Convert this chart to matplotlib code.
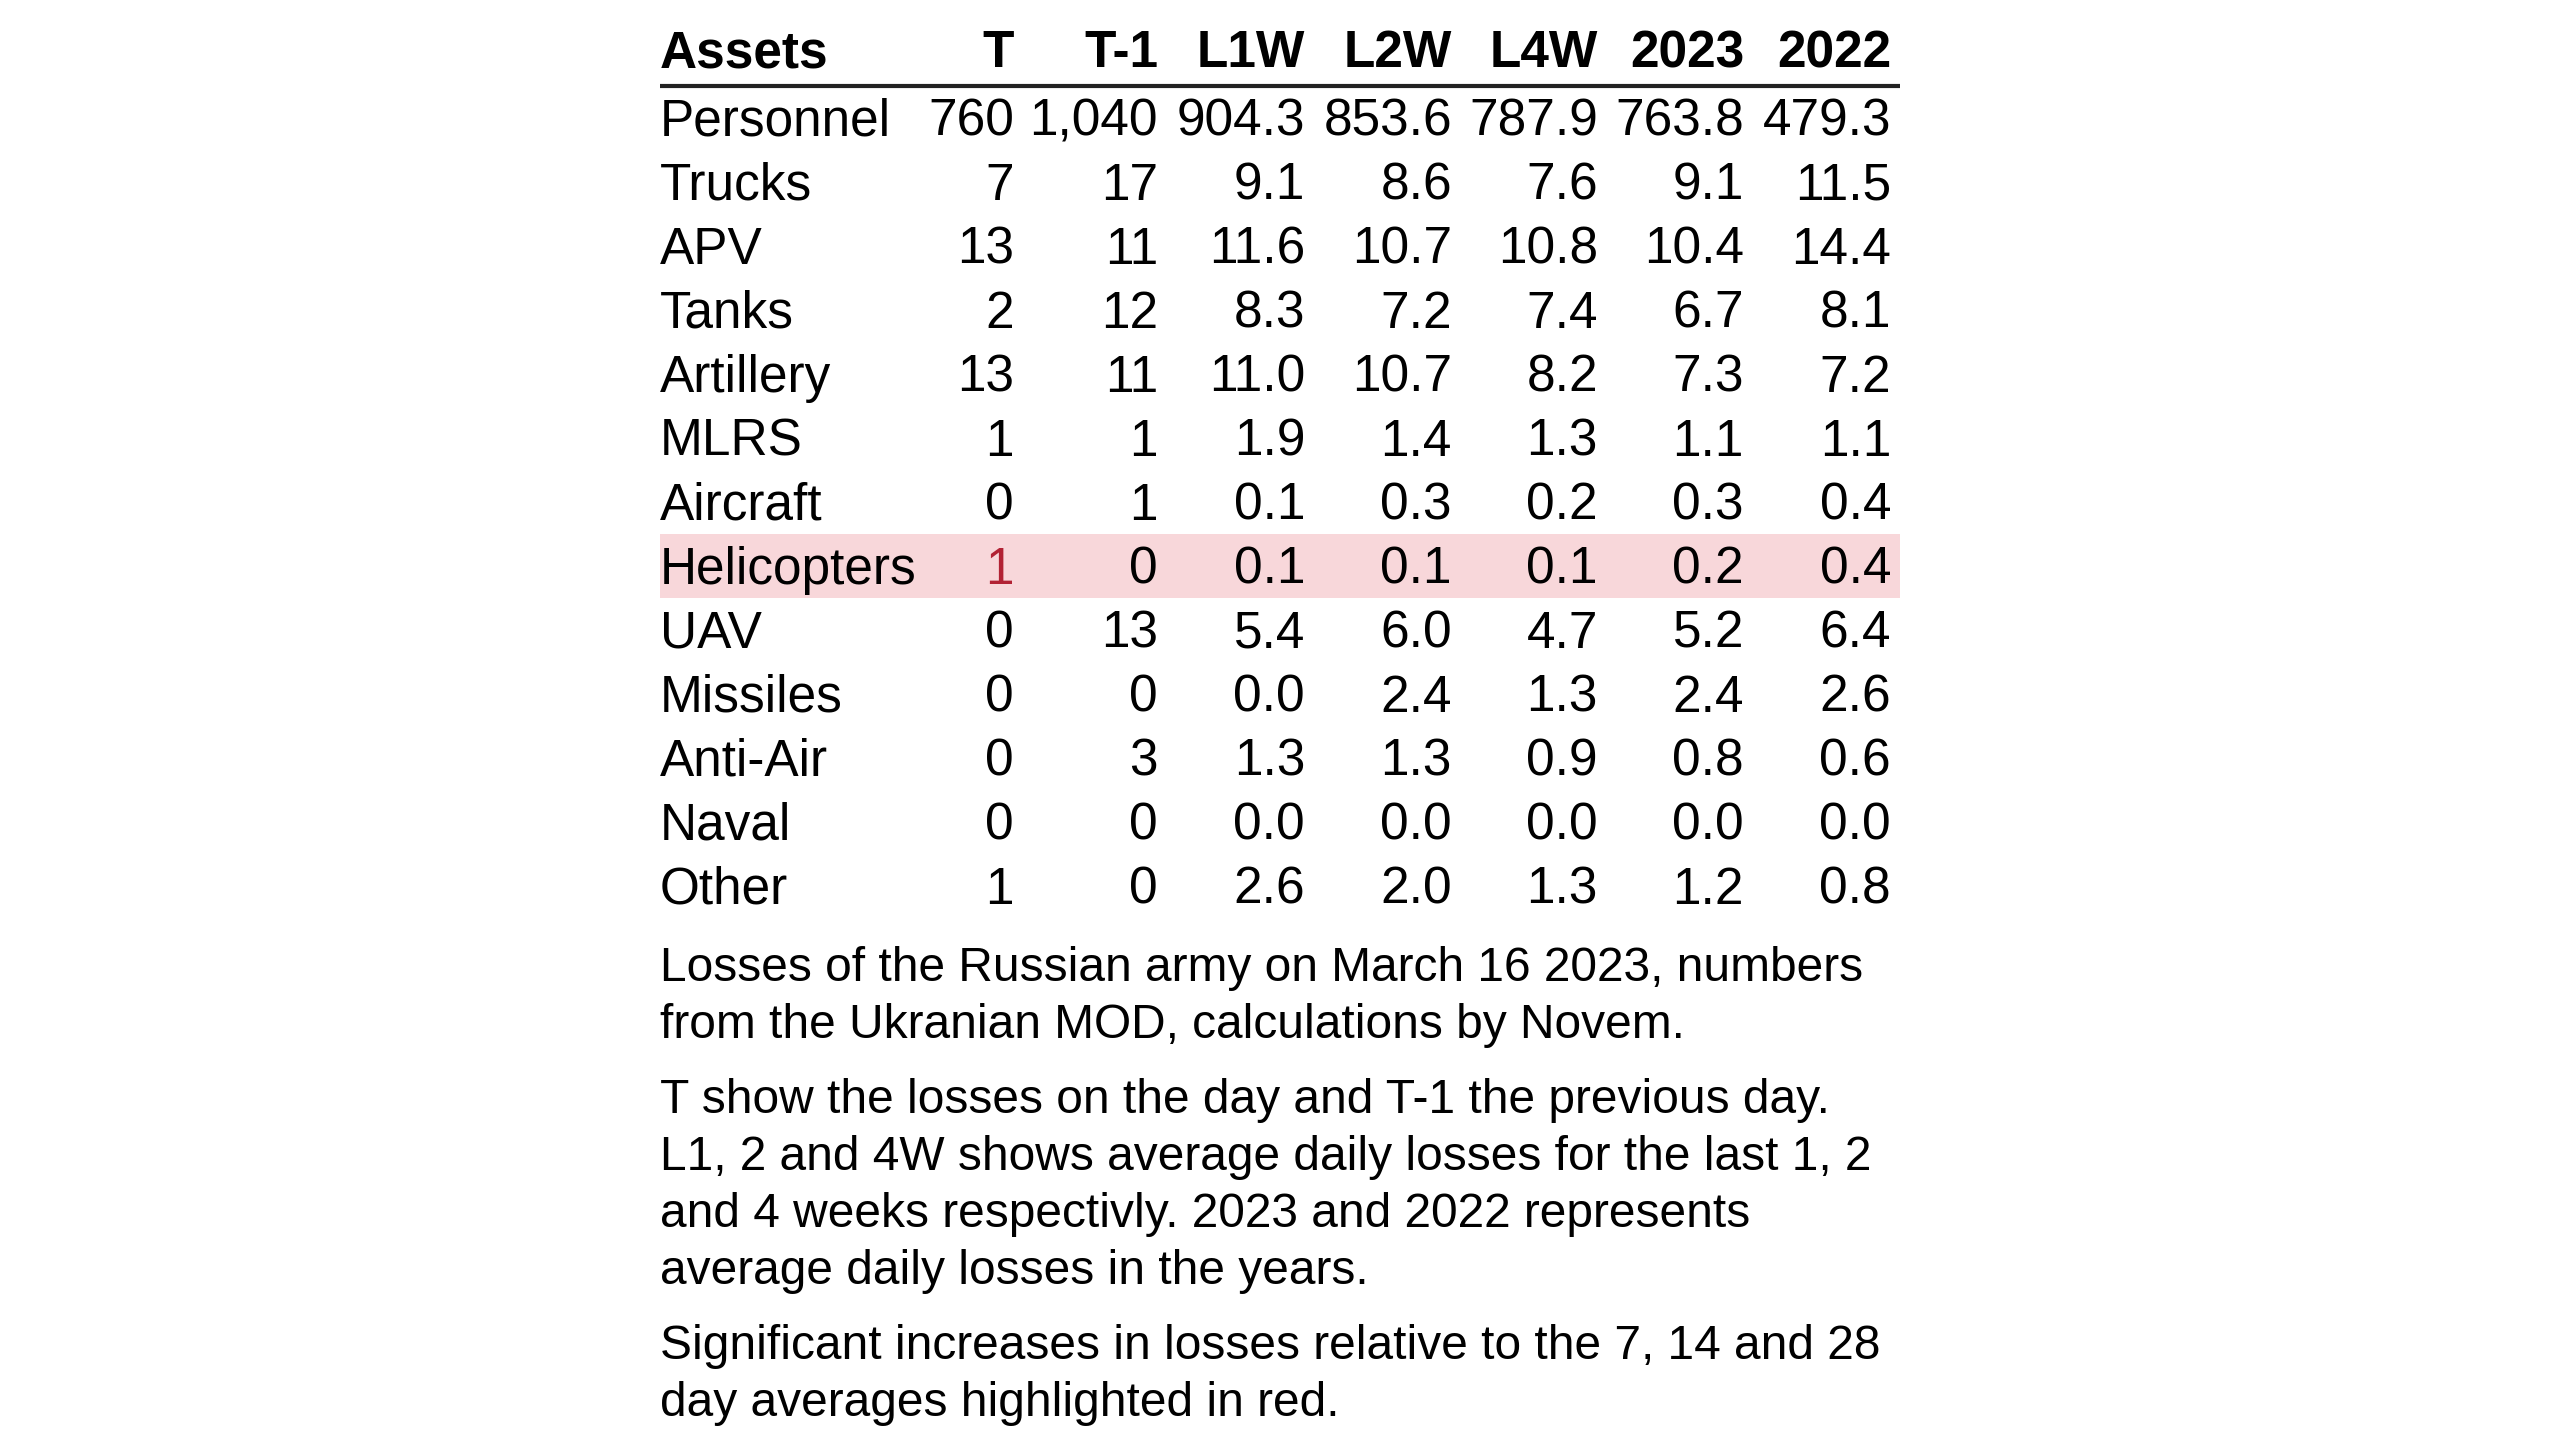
import matplotlib
matplotlib.use("Agg")
import matplotlib.pyplot as plt
from matplotlib.patches import Rectangle

# ---- data ----
assets = ["Personnel", "Trucks", "APV", "Tanks", "Artillery", "MLRS", "Aircraft",
          "Helicopters", "UAV", "Missiles", "Anti-Air", "Naval", "Other"]
columns = ["T", "T-1", "L1W", "L2W", "L4W", "2023", "2022"]
T_vals = [760, 7, 13, 2, 13, 1, 0, 1, 0, 0, 0, 0, 1]
T1_vals = [1040, 17, 11, 12, 11, 1, 1, 0, 13, 0, 3, 0, 0]
L1W_vals = [904.3, 9.1, 11.6, 8.3, 11.0, 1.9, 0.1, 0.1, 5.4, 0.0, 1.3, 0.0, 2.6]
L2W_vals = [853.6, 8.6, 10.7, 7.2, 10.7, 1.4, 0.3, 0.1, 6.0, 2.4, 1.3, 0.0, 2.0]
L4W_vals = [787.9, 7.6, 10.8, 7.4, 8.2, 1.3, 0.2, 0.1, 4.7, 1.3, 0.9, 0.0, 1.3]
Y2023_vals = [763.8, 9.1, 10.4, 6.7, 7.3, 1.1, 0.3, 0.2, 5.2, 2.4, 0.8, 0.0, 1.2]
Y2022_vals = [479.3, 11.5, 14.4, 8.1, 7.2, 1.1, 0.4, 0.4, 6.4, 2.6, 0.6, 0.0, 0.8]
highlight_rows = ["Helicopters"]
highlight_cells = [("Helicopters", "T")]

footnotes = [
    ["Losses of the Russian army on March 16 2023, numbers",
     "from the Ukranian MOD, calculations by Novem."],
    ["T show the losses on the day and T-1 the previous day.",
     "L1, 2 and 4W shows average daily losses for the last 1, 2",
     "and 4 weeks respectivly. 2023 and 2022 represents",
     "average daily losses in the years."],
    ["Significant increases in losses relative to the 7, 14 and 28",
     "day averages highlighted in red."],
]

col_values = [T_vals, T1_vals, L1W_vals, L2W_vals, L4W_vals, Y2023_vals, Y2022_vals]
int_cols = {"T", "T-1"}

# ---- layout (pixel coordinates) ----
W, H = 2560, 1440
fig = plt.figure(figsize=(W / 100, H / 100), dpi=100)
ax = fig.add_axes([0, 0, 1, 1])
ax.set_xlim(0, W)
ax.set_ylim(H, 0)
ax.axis("off")

FONT = "Liberation Sans"
table_fs = 37
note_fs = 34.5
left_x = 660
right_x = 1900
col_right = [1014, 1158, 1305, 1452, 1598, 1744, 1891]
header_base = 67
row0_base = 136
row_pitch = 64
cap = 37
RED = "#B22234"
PINK = "#F8D7DA"

# header
ax.text(left_x, header_base, "Assets", fontsize=table_fs, fontweight="bold",
        family=FONT, ha="left", va="baseline")
for c, xr in zip(columns, col_right):
    ax.text(xr, header_base, c, fontsize=table_fs, fontweight="bold",
            family=FONT, ha="right", va="baseline")
ax.plot([left_x, right_x], [86.3, 86.3], color="#222222", lw=3.0,
        solid_capstyle="butt")

# rows
for i, name in enumerate(assets):
    base = row0_base + i * row_pitch
    center = base - cap / 2
    if name in highlight_rows:
        ax.add_patch(Rectangle((left_x, center - row_pitch / 2), right_x - left_x,
                               row_pitch, facecolor=PINK, edgecolor="none", zorder=0))
    ax.text(left_x, base, name, fontsize=table_fs, family=FONT,
            ha="left", va="baseline")
    for c, vals, xr in zip(columns, col_values, col_right):
        v = vals[i]
        s = f"{v:,.0f}" if c in int_cols else f"{v:,.1f}"
        color = RED if (name, c) in highlight_cells else "black"
        ax.text(xr, base, s, fontsize=table_fs, family=FONT, color=color,
                ha="right", va="baseline")

# footnotes
y = 981
line_pitch = 57
para_gap = 75
for p, para in enumerate(footnotes):
    for j, line in enumerate(para):
        ax.text(left_x, y, line, fontsize=note_fs, family=FONT,
                ha="left", va="baseline")
        if j < len(para) - 1:
            y += line_pitch
    y += para_gap

fig.savefig("out.png", dpi=100, facecolor="white")
